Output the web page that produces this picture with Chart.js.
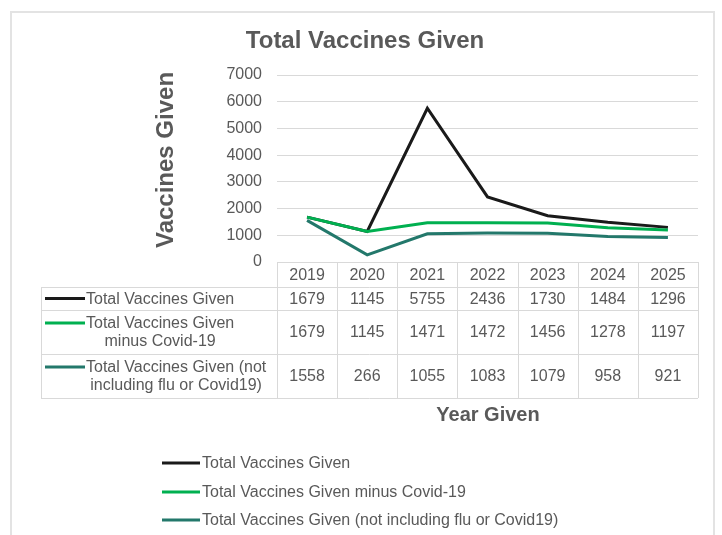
<!DOCTYPE html>
<html>
<head>
<meta charset="utf-8">
<script src="https://cdn.jsdelivr.net/npm/chart.js@4.4.1/dist/chart.umd.min.js"></script>
<style>
  html, body { margin: 0; padding: 0; background: #fff; }
  #wrap { width: 722px; height: 535px; }
</style>
</head>
<body>
<div id="wrap"><canvas id="vaccineChart" width="722" height="535"></canvas></div>
<script>
const years = ['2019', '2020', '2021', '2022', '2023', '2024', '2025'];
const totalGiven = [1679, 1145, 5755, 2436, 1730, 1484, 1296];
const minusCovid = [1679, 1145, 1471, 1472, 1456, 1278, 1197];
const noFluNoCovid = [1558, 266, 1055, 1083, 1079, 958, 921];
const legendNames = [
  'Total Vaccines Given',
  'Total Vaccines Given minus Covid-19',
  'Total Vaccines Given (not including flu or Covid19)'
];
// how the names wrap inside the data table
const tableNames = [
  ['Total Vaccines Given'],
  ['Total Vaccines Given', 'minus Covid-19'],
  ['Total Vaccines Given (not', 'including flu or Covid19)']
];
const yMax = 7000;
const yStep = 1000;

const colors = ['#1a1a1a', '#00b050', '#23786b'];
const textColor = '#595959';
const lineColor = '#d9d9d9';
const FONT = "'Liberation Sans', Arial, sans-serif";

const tablePlugin = {
  id: 'dataTable',
  beforeDraw(chart) {
    const ctx = chart.ctx;
    ctx.save();
    ctx.fillStyle = '#fff';
    ctx.fillRect(0, 0, chart.width, chart.height);
    ctx.strokeStyle = '#e3e3e3';
    ctx.lineWidth = 2;
    ctx.strokeRect(11, 12, 703, 560);
    ctx.restore();
  },
  afterDraw(chart) {
    const ctx = chart.ctx;
    const xs = chart.scales.x;
    const area = chart.chartArea;
    const half = (xs.getPixelForValue(1) - xs.getPixelForValue(0)) / 2;
    const left = 41;
    const rowH = [25, 23, 44, 44];
    const rows = [area.bottom];
    rowH.forEach(h => rows.push(rows[rows.length - 1] + h));
    const seriesData = [totalGiven, minusCovid, noFluNoCovid];

    ctx.save();
    // grid of the table
    ctx.strokeStyle = lineColor;
    ctx.lineWidth = 1;
    ctx.beginPath();
    ctx.moveTo(area.left, rows[0] + 0.5);
    ctx.lineTo(area.right, rows[0] + 0.5);
    for (let r = 1; r < rows.length; r++) {
      ctx.moveTo(left, Math.round(rows[r]) + 0.5);
      ctx.lineTo(area.right, Math.round(rows[r]) + 0.5);
    }
    ctx.moveTo(left + 0.5, rows[1]);
    ctx.lineTo(left + 0.5, rows[4]);
    for (let i = 0; i <= years.length; i++) {
      const px = Math.round(xs.getPixelForValue(i) - half) + 0.5;
      ctx.moveTo(px, rows[0]);
      ctx.lineTo(px, rows[4]);
    }
    ctx.stroke();

    // header years and values
    ctx.fillStyle = textColor;
    ctx.font = '16px ' + FONT;
    ctx.textAlign = 'center';
    ctx.textBaseline = 'middle';
    years.forEach((y, i) => {
      ctx.fillText(y, xs.getPixelForValue(i), (rows[0] + rows[1]) / 2 + 1);
    });
    seriesData.forEach((arr, s) => {
      const cy = (rows[s + 1] + rows[s + 2]) / 2 + 1;
      arr.forEach((v, i) => ctx.fillText(String(v), xs.getPixelForValue(i), cy));
    });

    // row labels with legend keys
    tableNames.forEach((lines, s) => {
      const cy = (rows[s + 1] + rows[s + 2]) / 2;
      const lh = 18;
      const firstY = cy - (lines.length - 1) * lh / 2;
      const widest = Math.max(...lines.map(t => ctx.measureText(t).width));
      const cx = 86 + widest / 2;
      lines.forEach((t, k) => ctx.fillText(t, cx, firstY + k * lh + 1));
      ctx.strokeStyle = colors[s];
      ctx.lineWidth = 3;
      ctx.beginPath();
      ctx.moveTo(45, firstY);
      ctx.lineTo(85, firstY);
      ctx.stroke();
    });

    // titles
    ctx.fillStyle = textColor;
    ctx.textAlign = 'center';
    ctx.textBaseline = 'alphabetic';
    ctx.font = 'bold 24px ' + FONT;
    ctx.fillText('Total Vaccines Given', 365, 48);
    ctx.font = 'bold 20px ' + FONT;
    ctx.fillText('Year Given', 488, 421);
    ctx.save();
    ctx.translate(173, 160);
    ctx.rotate(-Math.PI / 2);
    ctx.font = 'bold 24px ' + FONT;
    ctx.fillText('Vaccines Given', 0, 0);
    ctx.restore();

    // legend at the bottom
    ctx.font = '16px ' + FONT;
    ctx.textAlign = 'left';
    ctx.textBaseline = 'middle';
    const legendY = [463, 492, 520];
    legendNames.forEach((name, s) => {
      ctx.strokeStyle = colors[s];
      ctx.lineWidth = 3;
      ctx.beginPath();
      ctx.moveTo(162, legendY[s]);
      ctx.lineTo(200, legendY[s]);
      ctx.stroke();
      ctx.fillStyle = textColor;
      ctx.fillText(name, 202, legendY[s] + 1);
    });
    ctx.restore();
  }
};

const ctx = document.getElementById('vaccineChart').getContext('2d');
new Chart(ctx, {
  type: 'line',
  data: {
    labels: years,
    datasets: [
      { label: legendNames[0], data: totalGiven, borderColor: colors[0], order: 2 },
      { label: legendNames[1], data: minusCovid, borderColor: colors[1], order: 1 },
      { label: legendNames[2], data: noFluNoCovid, borderColor: colors[2], order: 0 }
    ]
  },
  options: {
    responsive: false,
    animation: false,
    events: [],
    layout: { padding: { top: 75, left: 0, right: 24, bottom: 273 } },
    elements: {
      line: { borderWidth: 3, tension: 0, borderJoinStyle: 'miter' },
      point: { radius: 0 }
    },
    plugins: {
      legend: { display: false },
      title: { display: false },
      tooltip: { enabled: false }
    },
    scales: {
      x: { display: false, offset: true },
      y: {
        min: 0,
        max: yMax,
        afterFit: (scale) => { scale.width = 277; },
        border: { display: false },
        grid: { color: lineColor, drawTicks: false },
        ticks: {
          stepSize: yStep,
          padding: 15,
          color: textColor,
          font: { size: 16, family: FONT },
          callback: (v) => String(v)
        }
      }
    }
  },
  plugins: [tablePlugin]
});
</script>
</body>
</html>
